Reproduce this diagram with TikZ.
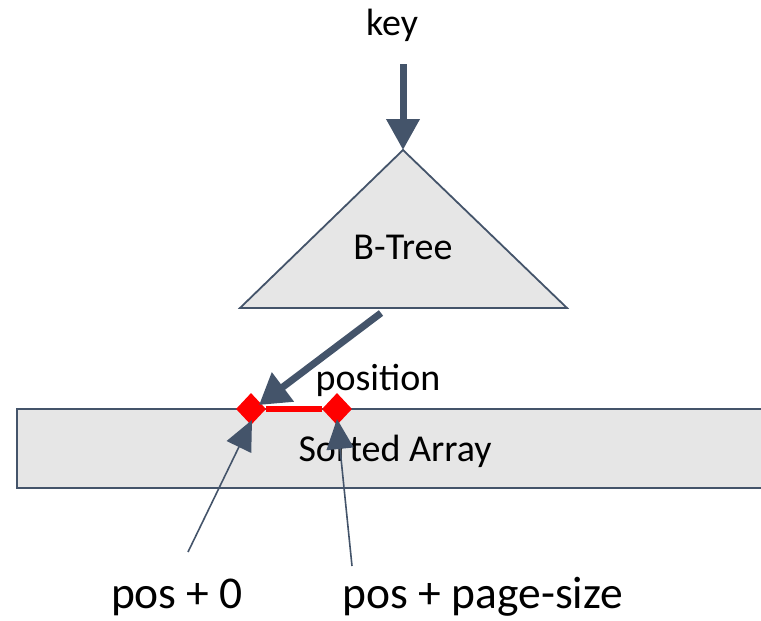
\documentclass[tikz,border=0pt]{standalone}
\usepackage{fontspec}
\setmainfont{Carlito}
\usetikzlibrary{arrows.meta,shapes.geometric}
\definecolor{slate}{HTML}{44546A}
\definecolor{panel}{HTML}{E6E6E6}
\tikzset{
  lbl/.style={font=\fontsize{38}{40}\selectfont, inner sep=0pt, anchor=base},
  biglbl/.style={font=\fontsize{45.5}{48}\selectfont, inner sep=0pt, anchor=base},
  outline/.style={draw=slate, line width=1.8pt, fill=panel},
  heavyarrow/.style={draw=slate, line width=7pt, -{Triangle[length=31pt,width=32pt]}},
  thinarrow/.style={draw=slate, line width=1.6pt, -{Triangle[length=30pt,width=27pt]}},
  marker/.style={diamond, fill=red, minimum width=30pt, minimum height=32pt, inner sep=0pt},
}
\begin{document}
\begin{tikzpicture}[x=1pt,y=-1pt]
\useasboundingbox (0,0) rectangle (761,621);

% search key entering the index
\node[lbl] (key) at (392,35) {key};
\coordinate (keyfoot) at (403,64);

% B-Tree index
\coordinate (apex) at (403,150);
\coordinate (baseL) at (240,308);
\coordinate (baseR) at (567,308);
\draw[outline, line join=miter] (apex) -- (baseR) -- (baseL) -- cycle;
\node[lbl] (btree) at (403,259) {B-Tree};
\draw[heavyarrow] (keyfoot) -- (apex);

% sorted array (runs past the right edge)
\draw[outline] (17,409) rectangle (790,488);
\node[lbl] (array) at (395,461) {Sorted Array};

% page range inside the array
\node[marker] (start) at (251,409) {};
\node[marker] (stop) at (337,409) {};
\draw[red, line width=6pt] (start.east) -- (stop.west);

% lookup result
\coordinate (treeout) at (381,313);
\coordinate (hit) at (259,405);
\draw[heavyarrow, line width=7pt, -{Triangle[length=30pt,width=35pt]}] (treeout) -- (hit);
\node[lbl] (pos) at (378,390) {position};

% offsets
\node[biglbl] (off0) at (177,608) {pos + 0};
\node[biglbl] (offp) at (483,608) {pos + page-size};
\coordinate (tail0) at (188,552);
\coordinate (tailp) at (352,566);
\draw[thinarrow] (tail0) -- (252,420);
\draw[thinarrow] (tailp) -- (337,419);
\end{tikzpicture}
\end{document}
